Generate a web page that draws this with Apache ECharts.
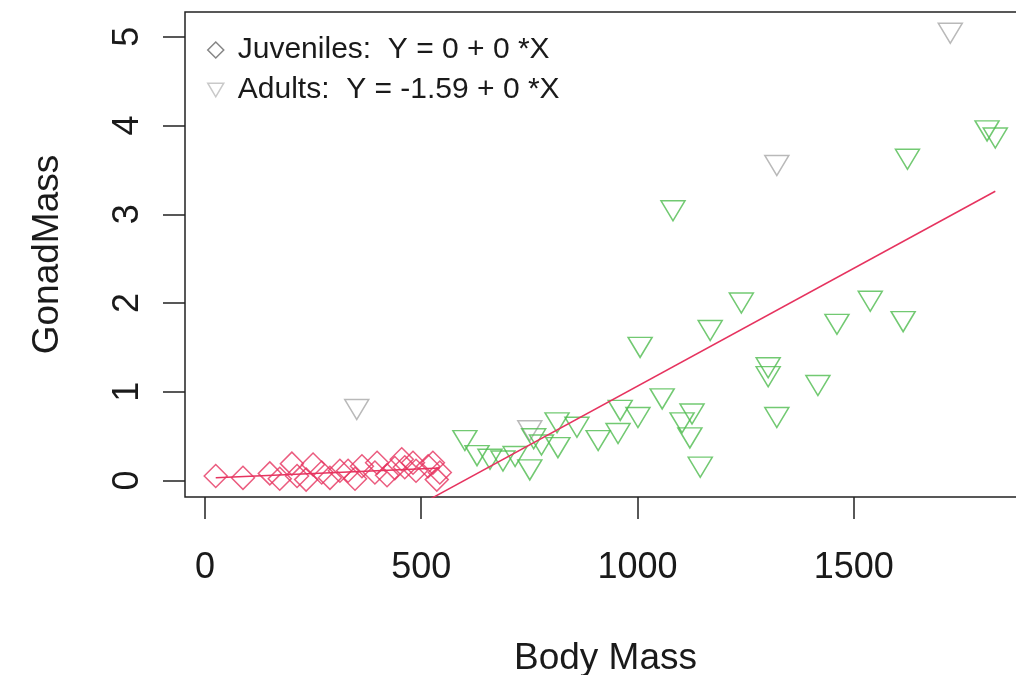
<!DOCTYPE html>
<html>
<head>
<meta charset="utf-8">
<script src="https://cdn.jsdelivr.net/npm/echarts@6/dist/echarts.min.js"></script>
<style>
  html, body { margin: 0; padding: 0; background: #fff; overflow: hidden; }
  #chart { width: 1016px; height: 675px; }
</style>
</head>
<body>
<div id="chart"></div>
<script>
// ---- data ----
const xTicks = [0, 500, 1000, 1500];
const yTicks = [0, 1, 2, 3, 4, 5];

const juvX = [25, 88, 150, 173, 201, 213, 234, 250, 270, 289, 312, 331, 347, 363, 393, 398, 421, 439, 455, 462, 481, 488, 516, 527, 536, 543];
const juvY = [0.05, 0.03, 0.08, 0.02, 0.19, 0.05, 0.01, 0.18, 0.09, 0.03, 0.11, 0.11, 0.02, 0.16, 0.09, 0.20, 0.06, 0.14, 0.24, 0.15, 0.20, 0.11, 0.16, 0.20, 0.01, 0.09];

const adultGreenX = [601, 629, 659, 689, 717, 751, 760, 778, 814, 816, 860, 909, 955, 960, 1001, 1006, 1057, 1082, 1103, 1121, 1126, 1145, 1168, 1240, 1302, 1302, 1322, 1417, 1461, 1538, 1614, 1624, 1808, 1827];
const adultGreenY = [0.45, 0.28, 0.24, 0.22, 0.27, 0.12, 0.47, 0.40, 0.65, 0.37, 0.60, 0.45, 0.53, 0.79, 0.71, 1.50, 0.92, 3.04, 0.65, 0.48, 0.75, 0.15, 1.69, 2.00, 1.27, 1.17, 0.71, 1.07, 1.76, 2.02, 1.79, 3.62, 3.94, 3.86];
const adultGrayX = [351, 751, 1322, 1723];
const adultGrayY = [0.80, 0.56, 3.55, 5.04];

const juvLineX = [25, 543];
const juvLineY = [0.03, 0.14];
const adultLineX = [351, 1827];
const adultLineY = [-0.66, 3.26];

const juvName = 'Juveniles:  Y = 0 + 0 *X';
const adultName = 'Adults:  Y = -1.59 + 0 *X';

// ---- chart ----
const zip = (xs, ys) => xs.map((x, i) => [x, ys[i]]);
const FONT = "'Liberation Sans', Arial, Helvetica, sans-serif";
const RED = '#e6335f';
const GREEN = '#4fbc4f';
const GRAY = '#a8a8a8';
const TXT = '#1a1a1a';
const TRI = 'path://M0,0L20,0L10,17Z';

const chart = echarts.init(document.getElementById('chart'), null, { renderer: 'canvas' });
chart.setOption({
  animation: false,
  backgroundColor: '#fff',
  textStyle: { fontFamily: FONT },
  grid: {
    left: 185, right: -10, top: 12, bottom: 178,
    outerBoundsMode: 'none', containLabel: false,
    show: true, borderColor: '#222', borderWidth: 1.5, backgroundColor: 'transparent'
  },
  legend: {
    orient: 'vertical', left: 202, top: 30, itemGap: 10,
    itemWidth: 16, itemHeight: 16,
    textStyle: { fontSize: 30, color: TXT, fontFamily: FONT, padding: [0, 0, 0, 9] },
    selectedMode: false,
    data: [
      { name: juvName, icon: 'diamond', itemStyle: { color: 'rgba(0,0,0,0)', borderColor: '#666', borderWidth: 1.5 } },
      { name: adultName, icon: TRI, itemStyle: { color: 'rgba(0,0,0,0)', borderColor: '#bbb', borderWidth: 1.5 } }
    ]
  },
  xAxis: {
    type: 'value', min: -46, max: 1898,
    name: 'Body Mass', nameLocation: 'middle', nameGap: 143,
    nameTextStyle: { fontSize: 37, color: TXT, fontFamily: FONT },
    axisLine: { show: false, onZero: false },
    axisTick: { show: true, inside: false, length: 22, customValues: xTicks, lineStyle: { color: '#222', width: 1.5 } },
    axisLabel: { customValues: xTicks, fontSize: 36, color: TXT, margin: 53, fontFamily: FONT,
      formatter: v => String(v) },
    splitLine: { show: false }
  },
  yAxis: {
    type: 'value', min: -0.186, max: 5.28,
    name: 'GonadMass', nameLocation: 'middle', nameGap: 119,
    nameTextStyle: { fontSize: 37, color: TXT, fontFamily: FONT },
    axisLine: { show: false, onZero: false },
    axisTick: { show: true, inside: false, length: 22, customValues: yTicks, lineStyle: { color: '#222', width: 1.5 } },
    axisLabel: { customValues: yTicks, fontSize: 36, color: TXT, rotate: 90, margin: 39, fontFamily: FONT,
      formatter: v => String(v) },
    splitLine: { show: false }
  },
  series: [
    {
      name: juvName, type: 'scatter', symbol: 'diamond', symbolSize: 23,
      data: zip(juvX, juvY),
      itemStyle: { color: 'rgba(0,0,0,0)', borderColor: RED, borderWidth: 1.5 },
      emphasis: { disabled: true }, z: 3
    },
    {
      name: adultName, type: 'scatter', symbol: TRI, symbolSize: [24, 20],
      data: zip(adultGrayX, adultGrayY),
      itemStyle: { color: 'rgba(0,0,0,0)', borderColor: GRAY, borderWidth: 1.5 },
      emphasis: { disabled: true }, z: 3
    },
    {
      name: adultName, type: 'scatter', symbol: TRI, symbolSize: [24, 20],
      data: zip(adultGreenX, adultGreenY),
      itemStyle: { color: 'rgba(0,0,0,0)', borderColor: GREEN, borderWidth: 1.5 },
      emphasis: { disabled: true }, z: 3
    },
    {
      name: 'juvFit', type: 'line', data: zip(juvLineX, juvLineY),
      showSymbol: false, clip: true, lineStyle: { color: RED, width: 1.5 },
      emphasis: { disabled: true }, z: 4
    },
    {
      name: 'adultFit', type: 'line', data: zip(adultLineX, adultLineY),
      showSymbol: false, clip: true, lineStyle: { color: RED, width: 1.5 },
      emphasis: { disabled: true }, z: 4
    }
  ]
});
</script>
</body>
</html>
